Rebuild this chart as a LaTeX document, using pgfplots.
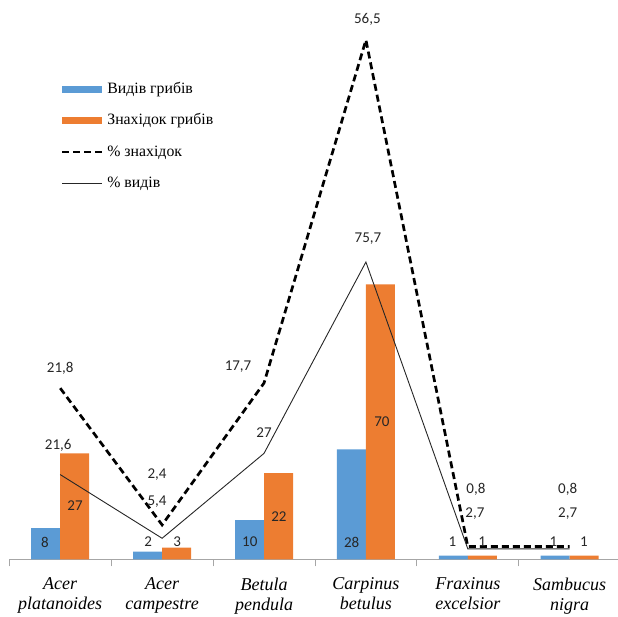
\documentclass[border=0pt]{standalone}
\usepackage{fontspec}
\setmainfont{Liberation Serif}
\newfontfamily\lserif{Liberation Serif}
\newfontfamily\carlito{Carlito}
\usepackage{pgfplots}
\pgfplotsset{compat=1.18}
\definecolor{cblue}{HTML}{5B9BD5}
\definecolor{corange}{HTML}{ED7D31}
\definecolor{axgray}{HTML}{A6A6A6}
\definecolor{lblack}{HTML}{262626}
\begin{document}
\begin{tikzpicture}
\begin{axis}[
  x=101.9pt, y=3.93pt,
  xmin=-0.5, xmax=5.474, ymin=0, ymax=142.37,
  axis x line=bottom, axis y line=none,
  x axis line style={-, draw=axgray, line width=0.9pt},
  xtick={0,1,2,3,4,5},
  xticklabels={{Acer\\platanoides},{Acer\\campestre},{Betula\\pendula},{Carpinus\\betulus},{Fraxinus\\excelsior},{Sambucus\\nigra}},
  major tick length=0pt,
  minor xtick={-0.5,0.5,1.5,2.5,3.5,4.5},
  minor tick length=7pt,
  tick align=outside,
  minor tick style={draw=axgray, line width=0.9pt},
  xticklabel style={font=\lserif\itshape\fontsize{18}{20}\selectfont, align=center, text=black, yshift=-15pt},
  clip=false,
  legend style={at={(0.0849,0.8534)}, anchor=north west, draw=none, fill=none,
    inner sep=0pt, outer sep=0pt, row sep=17pt, column sep=4pt,
    font=\lserif\fontsize{15.8}{18}\selectfont,
    nodes={inner sep=0pt, text height=11pt, text depth=3.5pt}},
  legend cell align=left,
]
\addplot[ybar, bar width=29pt, bar shift=-14.5pt, fill=cblue, draw=none,
  legend image code/.code={\fill[cblue] (0pt,-3.5pt) rectangle (40pt,3.5pt);}]
  coordinates {(0,8) (1,2) (2,10) (3,28) (4,1) (5,1)};
\addplot[ybar, bar width=29pt, bar shift=14.5pt, fill=corange, draw=none,
  legend image code/.code={\fill[corange] (0pt,-3.5pt) rectangle (40pt,3.5pt);}]
  coordinates {(0,27) (1,3) (2,22) (3,70) (4,1) (5,1)};
\addplot[black, line width=2.7pt, dash pattern=on 7pt off 4pt, mark=none,
  legend image code/.code={\draw[black, line width=2.4pt, dash pattern=on 7pt off 4pt] (0pt,0pt) -- (40pt,0pt);}]
  coordinates {(0,43.6) (1,8.8) (2,44.9) (3,132.2) (4,3.3) (5,3.3)};
\addplot[lblack, line width=0.9pt, mark=none,
  legend image code/.code={\draw[lblack, line width=0.9pt] (0pt,0pt) -- (40pt,0pt);}]
  coordinates {(0,21.6) (1,5.4) (2,27) (3,75.7) (4,2.7) (5,2.7)};
\legend{Видів грибів, Знахідок грибів, \% знахідок, \% видів}

\begin{scope}[every node/.style={font=\carlito\fontsize{15}{18}\selectfont, text=lblack, inner sep=0pt}]
\node at (axis cs:0,48.7) {21,8};
\node at (axis cs:0.95,21.5) {2,4};
\node at (axis cs:1.745,49.2) {17,7};
\node at (axis cs:3.014,137.5) {56,5};
\node at (axis cs:4.08,17.9) {0,8};
\node at (axis cs:4.98,17.9) {0,8};
\node at (axis cs:-0.02,29.1) {21,6};
\node at (axis cs:0.95,14.6) {5,4};
\node at (axis cs:2.0,32.4) {27};
\node at (axis cs:3.02,81.6) {75,7};
\node at (axis cs:4.07,11.8) {2,7};
\node at (axis cs:4.98,11.8) {2,7};
\node at (axis cs:-0.149,4.45) {8};
\node at (axis cs:0.862,4.45) {2};
\node at (axis cs:1.86,4.45) {10};
\node at (axis cs:2.86,4.45) {28};
\node at (axis cs:3.85,4.45) {1};
\node at (axis cs:4.84,4.45) {1};
\node at (axis cs:0.146,13.6) {27};
\node at (axis cs:1.147,4.45) {3};
\node at (axis cs:2.147,10.8) {22};
\node at (axis cs:3.157,35.0) {70};
\node at (axis cs:4.14,4.45) {1};
\node at (axis cs:5.14,4.45) {1};
\end{scope}
\coordinate (bbl) at (axis cs:-0.591,-14.63);
\coordinate (btr) at (axis cs:5.474,142.37);
\end{axis}
\pgfresetboundingbox
\path[use as bounding box] (bbl) rectangle (btr);
\end{tikzpicture}
\end{document}
